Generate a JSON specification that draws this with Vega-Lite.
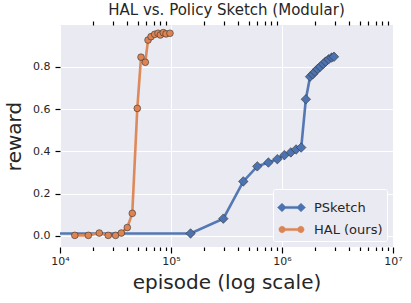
{
  "$schema": "https://vega.github.io/schema/vega-lite/v6.json",
  "autosize": {"type": "none"},
  "padding": {"left": 60, "top": 25, "right": 18, "bottom": 56},
  "width": 333,
  "height": 222,
  "background": "white",
  "title": {"text": "HAL vs. Policy Sketch (Modular)", "fontSize": 15, "font": "DejaVu Sans", "fontWeight": "normal", "color": "#262626", "offset": 2},
  "config": {
    "view": {"fill": "#EAEAF2", "stroke": null},
    "font": "DejaVu Sans",
    "axis": {"domain": false, "ticks": true, "gridColor": "white", "gridWidth": 1, "labelColor": "#262626", "titleColor": "#262626", "labelFontSize": 11, "titleFontSize": 20, "titleFontWeight": "normal", "labelFont": "DejaVu Sans", "titleFont": "DejaVu Sans"}
  },
  "data": {"values": [
    {"series": "PSketch", "episode": 1000, "reward": 0.012},
    {"series": "PSketch", "episode": 150000, "reward": 0.012},
    {"series": "PSketch", "episode": 296000, "reward": 0.082},
    {"series": "PSketch", "episode": 448000, "reward": 0.258},
    {"series": "PSketch", "episode": 599000, "reward": 0.329},
    {"series": "PSketch", "episode": 754000, "reward": 0.347},
    {"series": "PSketch", "episode": 908000, "reward": 0.363},
    {"series": "PSketch", "episode": 1050000, "reward": 0.382},
    {"series": "PSketch", "episode": 1200000, "reward": 0.395},
    {"series": "PSketch", "episode": 1340000, "reward": 0.409},
    {"series": "PSketch", "episode": 1490000, "reward": 0.418},
    {"series": "PSketch", "episode": 1640000, "reward": 0.646},
    {"series": "PSketch", "episode": 1790000, "reward": 0.753},
    {"series": "PSketch", "episode": 1890000, "reward": 0.764},
    {"series": "PSketch", "episode": 1980000, "reward": 0.776},
    {"series": "PSketch", "episode": 2090000, "reward": 0.789},
    {"series": "PSketch", "episode": 2210000, "reward": 0.8},
    {"series": "PSketch", "episode": 2350000, "reward": 0.813},
    {"series": "PSketch", "episode": 2470000, "reward": 0.824},
    {"series": "PSketch", "episode": 2630000, "reward": 0.835},
    {"series": "PSketch", "episode": 2800000, "reward": 0.843},
    {"series": "PSketch", "episode": 2940000, "reward": 0.847},
    {"series": "HAL (ours)", "episode": 13600, "reward": 0.003},
    {"series": "HAL (ours)", "episode": 18000, "reward": 0.003},
    {"series": "HAL (ours)", "episode": 22600, "reward": 0.014},
    {"series": "HAL (ours)", "episode": 27200, "reward": 0.003},
    {"series": "HAL (ours)", "episode": 31700, "reward": 0.003},
    {"series": "HAL (ours)", "episode": 35700, "reward": 0.014},
    {"series": "HAL (ours)", "episode": 40400, "reward": 0.04},
    {"series": "HAL (ours)", "episode": 44800, "reward": 0.107},
    {"series": "HAL (ours)", "episode": 49700, "reward": 0.603},
    {"series": "HAL (ours)", "episode": 53700, "reward": 0.845},
    {"series": "HAL (ours)", "episode": 58700, "reward": 0.821},
    {"series": "HAL (ours)", "episode": 62100, "reward": 0.926},
    {"series": "HAL (ours)", "episode": 66100, "reward": 0.942},
    {"series": "HAL (ours)", "episode": 71300, "reward": 0.953},
    {"series": "HAL (ours)", "episode": 76400, "reward": 0.958},
    {"series": "HAL (ours)", "episode": 80200, "reward": 0.95},
    {"series": "HAL (ours)", "episode": 85300, "reward": 0.961},
    {"series": "HAL (ours)", "episode": 90200, "reward": 0.955},
    {"series": "HAL (ours)", "episode": 97900, "reward": 0.958}
  ]},
  "encoding": {
    "y": {"field": "reward", "type": "quantitative", "title": "reward",
      "scale": {"domain": [-0.052, 0.997], "nice": false, "zero": false},
      "axis": {"values": [0, 0.2, 0.4, 0.6, 0.8], "format": ".1f", "tickSize": 5, "tickColor": "#000000", "tickWidth": 1.2, "labelPadding": 5, "titlePadding": 8}}
  },
  "layer": [
    {
      "mark": {"type": "line", "strokeWidth": 2.6, "clip": true, "opacity": 0.95},
      "encoding": {
        "x": {"field": "episode", "type": "quantitative", "title": "episode (log scale)",
          "scale": {"type": "log", "domain": [10000, 10000000]},
          "axis": {"orient": "bottom",
            "values": [10000, 20000, 30000, 40000, 50000, 60000, 70000, 80000, 90000, 100000, 200000, 300000, 400000, 500000, 600000, 700000, 800000, 900000, 1000000, 2000000, 3000000, 4000000, 5000000, 6000000, 7000000, 8000000, 9000000, 10000000],
            "labelExpr": "datum.value == 10000 ? '10⁴' : datum.value == 100000 ? '10⁵' : datum.value == 1000000 ? '10⁶' : datum.value == 10000000 ? '10⁷' : ''",
            "labelOverlap": false, "labelFlush": false, "labelBound": false, "labelPadding": 2, "titlePadding": 6,
            "tickColor": "#000000", "tickWidth": 1.2,
            "tickSize": {"condition": {"test": "datum.value == 10000 || datum.value == 100000 || datum.value == 1000000 || datum.value == 10000000", "value": 6}, "value": 3.5},
            "gridOpacity": {"condition": {"test": "datum.value == 10000 || datum.value == 100000 || datum.value == 1000000 || datum.value == 10000000", "value": 1}, "value": 0}}},
        "color": {"field": "series", "type": "nominal", "title": null, "scale": {"domain": ["PSketch", "HAL (ours)"], "range": ["#4C72B0", "#DD8452"]},
          "legend": {"orient": "bottom-right", "offset": 6, "fillColor": "#EAEAF2", "strokeColor": "#FFFFFF", "padding": 4, "cornerRadius": 2, "labelFontSize": 13, "labelColor": "#262626", "labelFont": "DejaVu Sans", "symbolSize": 784, "symbolStrokeWidth": 0.5, "symbolOpacity": 1, "labelOffset": 8, "rowPadding": -8,
            "encode": {"symbols": {"update": {
              "shape": {"signal": "datum.value == 'PSketch' ? 'M-1,0L-0.68,-0.3L-0.36,0L-0.68,0.3Z M0.36,0L0.68,-0.3L1,0L0.68,0.3Z M-0.4,-0.08L0.4,-0.08L0.4,0.08L-0.4,0.08Z' : 'M-0.9,0A0.23,0.23 0 1,0 -0.44,0A0.23,0.23 0 1,0 -0.9,0Z M0.44,0A0.23,0.23 0 1,0 0.9,0A0.23,0.23 0 1,0 0.44,0Z M-0.46,-0.08L0.46,-0.08L0.46,0.08L-0.46,0.08Z'"},
              "fill": {"scale": "color", "field": "value"},
              "stroke": {"value": "#333333"},
              "strokeWidth": {"value": 0.5}
            }}}}}
      }
    },
    {
      "transform": [{"filter": "datum.series == 'PSketch'"}],
      "mark": {"type": "point", "shape": "diamond", "filled": true, "fill": "#4C72B0", "stroke": "#333333", "strokeWidth": 0.6, "size": 90, "opacity": 1, "clip": true},
      "encoding": {
        "x": {"field": "episode", "type": "quantitative", "title": null,
          "scale": {"type": "log", "domain": [10000, 10000000]},
          "axis": {"orient": "top", "grid": false, "labels": false, "ticks": true, "tickSize": 4, "tickColor": "#000000", "tickWidth": 1.2,
            "values": [20000, 30000, 40000, 50000, 60000, 70000, 80000, 90000, 200000, 300000, 400000, 500000, 600000, 700000, 800000, 900000, 2000000, 3000000, 4000000, 5000000, 6000000, 7000000, 8000000, 9000000]}}
      }
    },
    {
      "transform": [{"filter": "datum.series == 'HAL (ours)'"}],
      "mark": {"type": "point", "shape": "circle", "filled": true, "fill": "#DD8452", "stroke": "#333333", "strokeWidth": 0.6, "size": 45, "opacity": 1, "clip": true},
      "encoding": {
        "x": {"field": "episode", "type": "quantitative", "scale": {"type": "log", "domain": [10000, 10000000]}, "axis": null}
      }
    }
  ],
  "resolve": {"scale": {"x": "independent"}, "axis": {"x": "independent"}}
}
